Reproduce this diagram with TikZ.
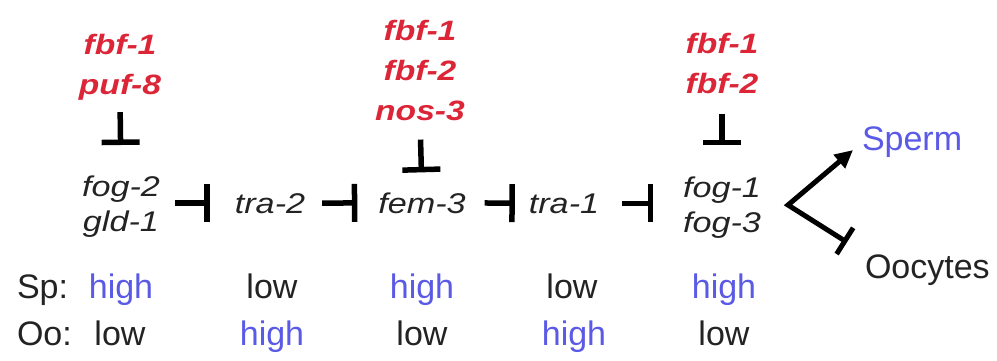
\documentclass[tikz,border=0pt]{standalone}
\usepackage{fontspec}
\setmainfont{Liberation Sans}
\newfontfamily\genefont[FakeStretch=1.2]{Liberation Sans}
\usetikzlibrary{arrows.meta,calc}
\definecolor{genered}{RGB}{220,38,56}
\definecolor{highblue}{RGB}{90,90,230}
\definecolor{inkgray}{RGB}{35,35,35}
\begin{document}
\begin{tikzpicture}[x=1pt,y=-1pt,
  every node/.style={inner sep=0pt,outer sep=0pt},
  redstack/.style={anchor=north,align=center,text=genered,
    font=\genefont\fontsize{28}{40}\selectfont\bfseries\itshape},
  gene/.style={anchor=base,text=inkgray,
    font=\genefont\fontsize{28.5}{35}\selectfont\itshape},
  genestack/.style={anchor=north,align=center,text=inkgray,
    font=\genefont\fontsize{28.5}{35}\selectfont\itshape},
  level/.style={anchor=base,font=\fontsize{34}{40}\selectfont},
  hi/.style={level,text=highblue},
  lo/.style={level,text=inkgray},
  inh/.style={line width=5.5pt,draw=black,-{Bar[width=38pt]}},
  fate/.style={line width=5pt,draw=black,line join=miter,
    {Triangle[length=18pt,width=17pt]}-{Bar[width=31pt]}},
  ]
\useasboundingbox (0,0) rectangle (997,360);
\fill[white] (0,0) rectangle (997,360);

% red regulators
\node[redstack] (r1) at (120,34) {fbf-1\\puf-8};
\node[redstack] (r3) at (420,20) {fbf-1\\fbf-2\\nos-3};
\node[redstack] (r5) at (722,33) {fbf-1\\fbf-2};

% pathway genes
\node[genestack] (g1) at (121,176) {fog-2\\gld-1};
\node[gene] (g2) at (270,213) {tra-2};
\node[gene] (g3) at (422,213) {fem-3};
\node[gene] (g4) at (564,213) {tra-1};
\node[genestack] (g5) at (722,177) {fog-1\\fog-3};

% vertical inhibitions
\draw[inh,shorten <=12pt,shorten >=31pt] (r1.south) -- (g1.north);
\draw[inh,shorten <=19pt,shorten >=20pt] (r3.south) -- (g3.north);
\draw[inh,shorten <=20pt,shorten >=32pt] (r5.south) -- (g5.north);

% horizontal inhibitions
\draw[inh,shorten <=15pt,shorten >=25pt] (g1.east |- g2) -- (g2.west);
\draw[inh,shorten <=17pt,shorten >=21pt] (g2.east) -- (g3.west);
\draw[inh,shorten <=19pt,shorten >=14pt] (g3.east) -- (g4.west);
\draw[inh,shorten <=23pt,shorten >=30pt] (g4.east) -- (g5.west |- g4);

% fates
\node[level,anchor=base west,text=highblue] (sperm) at (862,150) {Sperm};
\node[level,anchor=base west,text=inkgray] (oocytes) at (865,278) {Oocytes};
\coordinate (fork) at (788,205);
\draw[fate] ($(sperm.south west)+(-9,-7)$) -- (fork) -- ($(oocytes.north west)+(-18,-12)$);

% expression levels
\node[level,anchor=base west,text=inkgray] (sp) at (17,298) {Sp:};
\node[level,anchor=base west,text=inkgray] (oo) at (17,345) {Oo:};
\node[hi] (sp1) at (121,298) {high};
\node[lo] (sp2) at (272,298) {low};
\node[hi] (sp3) at (422,298) {high};
\node[lo] (sp4) at (572,298) {low};
\node[hi] (sp5) at (724,298) {high};
\node[lo] (oo1) at (120,345) {low};
\node[hi] (oo2) at (272,345) {high};
\node[lo] (oo3) at (422,345) {low};
\node[hi] (oo4) at (574,345) {high};
\node[lo] (oo5) at (724,345) {low};
\end{tikzpicture}
\end{document}
